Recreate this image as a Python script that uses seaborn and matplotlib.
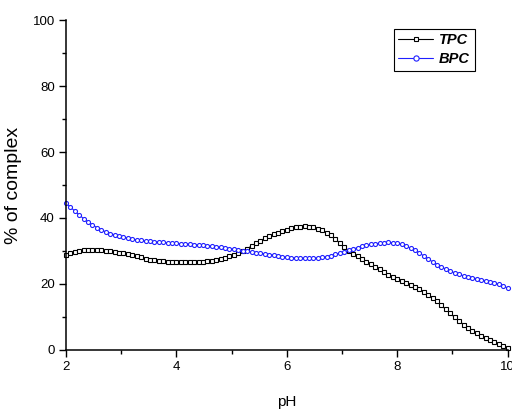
import numpy as np
import matplotlib
matplotlib.use("Agg")
import matplotlib.pyplot as plt
import seaborn as sns
from matplotlib.ticker import MultipleLocator

# pH grid (step 0.08) and values
ph = [round(2 + 0.08 * i, 2) for i in range(101)]

tpc = [28.9, 29.3, 29.7, 30.0, 30.2, 30.3, 30.35, 30.3, 30.25, 30.1,
       29.9, 29.7, 29.5, 29.3, 29.0, 28.7, 28.4, 28.1, 27.7, 27.4,
       27.2, 27.0, 26.9, 26.8, 26.75, 26.7, 26.65, 26.6, 26.6, 26.6,
       26.7, 26.8, 26.9, 27.1, 27.3, 27.7, 28.0, 28.4, 28.9, 29.4,
       30.0, 30.7, 31.5, 32.3, 33.1, 33.8, 34.4, 35.0, 35.6, 36.1,
       36.5, 36.9, 37.2, 37.4, 37.5, 37.4, 37.2, 36.8, 36.3, 35.6,
       34.7, 33.6, 32.4, 31.2, 30.1, 29.2, 28.4, 27.6, 26.8, 26.0,
       25.2, 24.4, 23.6, 22.8, 22.2, 21.6, 21.0, 20.4, 19.8, 19.2,
       18.5, 17.7, 16.8, 15.8, 14.7, 13.5, 12.3, 11.1, 9.9, 8.8,
       7.7, 6.7, 5.8, 5.0, 4.3, 3.6, 3.0, 2.4, 1.8, 1.2,
       0.5]

bpc = [44.5, 43.3, 42.1, 40.9, 39.8, 38.8, 37.9, 37.1, 36.4, 35.8,
       35.3, 34.9, 34.5, 34.2, 33.9, 33.6, 33.4, 33.2, 33.0, 32.9,
       32.8, 32.7, 32.6, 32.5, 32.4, 32.3, 32.2, 32.1, 32.0, 31.9,
       31.8, 31.7, 31.6, 31.4, 31.3, 31.1, 30.9, 30.7, 30.5, 30.3,
       30.1, 29.9, 29.7, 29.5, 29.3, 29.1, 28.9, 28.7, 28.5, 28.3,
       28.1, 28.0, 27.9, 27.8, 27.8, 27.8, 27.8, 27.9, 28.1, 28.3,
       28.6, 29.0, 29.4, 29.8, 30.2, 30.6, 31.0, 31.4, 31.7, 32.0,
       32.2, 32.4, 32.5, 32.6, 32.5, 32.3, 32.0, 31.5, 30.9, 30.2,
       29.4, 28.5, 27.6, 26.7, 25.9, 25.2, 24.5, 23.9, 23.4, 22.9,
       22.5, 22.2, 21.9, 21.6, 21.3, 21.0, 20.7, 20.3, 19.9, 19.4,
       18.8]

x_ticks = [2, 4, 6, 8, 10]
y_ticks = [0, 20, 40, 60, 80, 100]

sns.set_style("ticks")
plt.rcParams['font.family'] = ['Liberation Sans', 'DejaVu Sans']

fig = plt.figure(figsize=(5.12, 4.17), dpi=100)
ax = fig.add_axes([0.1289, 0.1607, 0.8627, 0.7913])

sns.lineplot(x=ph, y=tpc, ax=ax, color="black", lw=0.8, marker="s",
             markersize=2.7, markerfacecolor="white", markeredgecolor="black",
             markeredgewidth=0.8, label="TPC", clip_on=False)
sns.lineplot(x=ph, y=bpc, ax=ax, color="#1f1fff", lw=0.8, marker="o",
             markersize=2.9, markerfacecolor="white", markeredgecolor="#1f1fff",
             markeredgewidth=0.8, label="BPC", clip_on=False)

ax.set_xlim(2, 10)
ax.set_ylim(0, 100)
ax.set_xticks(x_ticks)
ax.set_yticks(y_ticks)
ax.xaxis.set_minor_locator(MultipleLocator(1))
ax.yaxis.set_minor_locator(MultipleLocator(10))
ax.tick_params(which="major", direction="out", length=5, width=1, labelsize=9.5,
               pad=3, colors="black")
ax.tick_params(which="minor", direction="out", length=3, width=1, colors="black")
for s in ["top", "right"]:
    ax.spines[s].set_visible(False)
for s in ["left", "bottom"]:
    ax.spines[s].set_linewidth(1.1)
    ax.spines[s].set_color("black")

ax.set_xlabel("pH", fontsize=11, labelpad=16, color="black")
ax.set_ylabel("% of complex", fontsize=14, labelpad=8, color="black")

leg = ax.legend(loc="upper left", bbox_to_anchor=(0.7695, 0.9305),
                bbox_transform=fig.transFigure, borderaxespad=0,
                fancybox=False, edgecolor="black", framealpha=1,
                prop={"weight": "bold", "style": "italic", "size": 10.5},
                handlelength=2.4, handletextpad=0.4, borderpad=0.3,
                labelspacing=0.35, markerscale=1.3)
leg.get_frame().set_linewidth(0.8)
for t in leg.get_texts():
    t.set_color("black")

fig.savefig("out.png", dpi=100)
